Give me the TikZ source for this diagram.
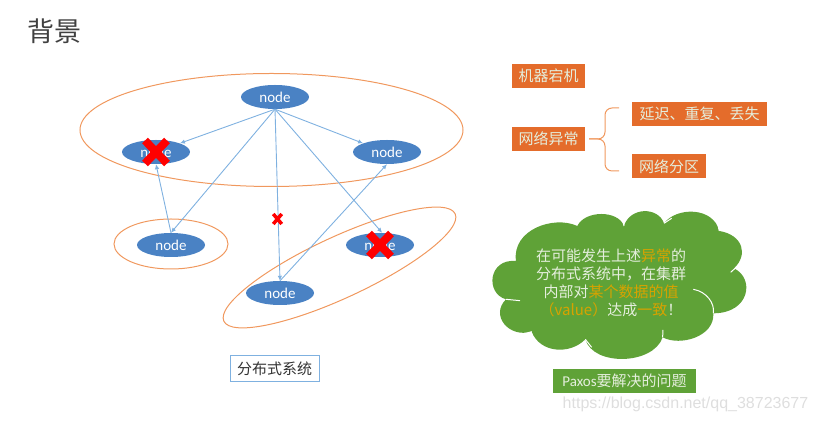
\documentclass[tikz,border=0pt]{standalone}
\usepackage{fontspec}
\setmainfont{Carlito}
\newfontfamily\cjk{Noto Sans CJK SC}
\newfontfamily\wmfont{Liberation Sans}
\usetikzlibrary{arrows.meta}
\usetikzlibrary{shapes.geometric,shapes.misc}
\definecolor{nodeblue}{HTML}{4A82C4}
\definecolor{linkblue}{HTML}{7FB1E0}
\definecolor{ringorange}{HTML}{F0985E}
\definecolor{boxorange}{HTML}{E46C2B}
\definecolor{cloudgreen}{HTML}{5FA237}
\definecolor{cloudtext}{HTML}{E4EEDC}
\definecolor{hilite}{HTML}{D8A200}
\tikzset{
	srv/.style={ellipse,fill=nodeblue,text=white,minimum width=68pt,minimum height=24pt,inner sep=0pt,font=\fontsize{15}{17}\selectfont},
	link/.style={draw=linkblue,line width=0.9pt,-{Latex[length=5pt,width=4.5pt]}},
	ring/.style={draw=ringorange,line width=1pt},
	bigx/.style={cross out,draw=red,line width=8pt,minimum width=14pt,minimum height=15pt,inner sep=0pt},
	smallx/.style={cross out,draw=red,line width=3.5pt,minimum width=5pt,minimum height=6.5pt,inner sep=0pt},
	tag/.style={fill=boxorange,text=cloudtext,minimum height=24pt,inner sep=0pt,font=\cjk\fontsize{15}{17}\selectfont},
	brc/.style={draw=ringorange,line width=1pt,rounded corners=7pt},
}
\begin{document}
\begin{tikzpicture}[x=1pt,y=1pt]
	\useasboundingbox (0,0) rectangle (817,422);

	\node[text=black!75,font=\cjk\fontsize{27}{29}\selectfont] (title) at (54.5,391) {背景};

	% rings
	\node[ellipse,ring,minimum width=383pt,minimum height=113pt,inner sep=0pt] (ringtop) at (271.5,292) {};
	\node[ellipse,ring,minimum width=114pt,minimum height=50pt,inner sep=0pt] (ringleft) at (171,178) {};
	\node[ellipse,ring,minimum width=255pt,minimum height=61pt,inner sep=0pt,rotate=24.9] (ringright) at (339.5,154.5) {};

	% servers
	\node[srv] (top) at (275,325) {node};
	\node[srv] (left) at (156,270) {node};
	\node[srv] (right) at (387,270) {node};
	\node[srv] (lowleft) at (171,177) {node};
	\node[srv] (lowright) at (380,177) {node};
	\node[srv] (bottom) at (280,129) {node};

	\draw[link] (top.south) -- (left.20);
	\draw[link] (top.south) -- (right.160);
	\draw[link] (top.south) -- (lowleft.north);
	\draw[link] (top.south) -- (lowright.80);
	\draw[link] (top.south) -- (bottom.north);
	\draw[link] (lowleft.north) -- (left.south);
	\draw[link] (bottom.north) -- (right.south);

	\node[bigx] (xleft) at (156,270) {};
	\node[bigx] (xlow) at (380,177) {};
	\node[smallx] (xmid) at (277.5,203) {};

	\node[draw=linkblue,line width=1pt,text=black!80,minimum width=89pt,minimum height=26pt,inner sep=0pt,font=\cjk\fontsize{15}{17}\selectfont] (caption) at (274.5,53) {分布式系统};

	% right column
	\node[tag,minimum width=73pt] (crash) at (548.5,346) {机器宕机};
	\node[tag,minimum width=73pt] (net) at (548.5,283) {网络异常};
	\node[tag,minimum width=135pt] (delay) at (699.5,308) {延迟、重复、丢失};
	\node[tag,minimum width=74pt] (part) at (669,255.5) {网络分区};

	\coordinate (brctop) at (619,314);
	\coordinate (brcbot) at (619,251);
	\coordinate (brcmid) at (589,283);
	\draw[brc] (brctop) -- (605,314) -- (605,283) -- (brcmid);
	\draw[brc] (brcbot) -- (605,251) -- (605,283) -- (brcmid);

	% cloud, traced in zoomed image units
	\begin{scope}[shift={(480,232)},x=0.3333pt,y=-0.3333pt]
		\fill[cloudgreen] (108,213) .. controls (95,120) and (220,75) .. (292,108)
			.. controls (315,60) and (415,60) .. (432,108)
			.. controls (450,50) and (535,50) .. (552,100)
			.. controls (590,50) and (700,50) .. (718,123)
			.. controls (790,135) and (805,195) .. (762,235)
			.. controls (825,265) and (810,370) .. (700,370)
			.. controls (705,440) and (600,470) .. (548,442)
			.. controls (520,525) and (340,530) .. (316,448)
			.. controls (270,495) and (180,490) .. (155,425)
			.. controls (85,445) and (30,375) .. (78,328)
			.. controls (15,310) and (25,205) .. (108,213) -- cycle;
		\draw[white,line width=1pt] (78,328) -- (120,332);
		\draw[white,line width=1pt] (155,425) -- (135,431);
		\draw[white,line width=1pt] (316,448) -- (335,472);
		\draw[white,line width=1pt] (548,442) -- (549,420);
		\draw[white,line width=1pt] (640,298) .. controls (680,305) and (705,340) .. (700,370);
		\draw[white,line width=1pt] (780,222) -- (752,247);
		\draw[white,line width=1pt] (718,123) -- (714,105);
		\draw[white,line width=1pt] (552,100) -- (575,85);
		\draw[white,line width=1pt] (432,108) -- (428,90);
	\end{scope}

	\node[align=center,text=cloudtext,inner sep=0pt,font=\cjk\fontsize{15}{18}\selectfont] (cloudtxt) at (611,139) {在可能发生上述\textcolor{hilite}{异常}的\\分布式系统中，在集群\\内部对\textcolor{hilite}{某个数据的值}\\\textcolor{hilite}{（value）}达成\textcolor{hilite}{一致}！};

	\node[fill=cloudgreen,text=cloudtext,minimum width=143pt,minimum height=24pt,inner sep=0pt,font=\fontsize{15}{17}\selectfont] (paxos) at (624.5,41) {Paxos{\cjk 要解决的问题}};

	\node[text=black!13,inner sep=0pt,font=\wmfont\fontsize{16}{18}\selectfont] (mark) at (685.5,18) {https://blog.csdn.net/qq\_38723677};
\end{tikzpicture}
\end{document}
